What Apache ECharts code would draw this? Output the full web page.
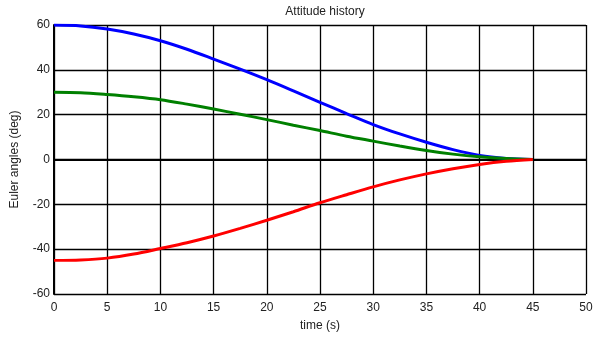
<!DOCTYPE html>
<html><head><meta charset="utf-8">
<script src="https://cdn.jsdelivr.net/npm/echarts@6/dist/echarts.min.js"></script>
<style>html,body{margin:0;padding:0;background:#fff}#c{width:597px;height:337px}</style>
</head><body><div id="c"></div>
<script>
const time = [0,2.5,5,7.5,10,12.5,15,17.5,20,22.5,25,27.5,30,32.5,35,37.5,40,42.5,45];
const blue = [60,59.6,58.2,56,53,49.2,44.8,40.3,35.6,30.6,25.5,20.5,15.6,11.4,7.7,4.4,1.8,0.5,0];
const green = [30,29.8,29,28,26.7,24.7,22.5,20.2,17.8,15.3,12.9,10.4,8.2,6,4,2.4,1.2,0.4,0];
const red = [-45,-44.8,-44,-42.2,-39.7,-37.1,-34.1,-30.7,-27.1,-23.3,-19.3,-15.7,-12.2,-9.1,-6.4,-4.1,-2.2,-0.8,0];

const font = 'Liberation Sans, Arial, sans-serif';
const pairs = a => time.map((t,i)=>[t,a[i]]);
const mk = (a,c)=>({type:'line',data:pairs(a),smooth:0.3,showSymbol:false,lineStyle:{color:c,width:3},itemStyle:{color:c}});
const chart = echarts.init(document.getElementById('c'));
chart.setOption({
  animation:false,
  title:{text:'Attitude history',left:320,textAlign:'center',top:1,textStyle:{fontFamily:font,fontSize:12,fontWeight:'normal',color:'#222'}},
  grid:{left:54,right:11,top:25,bottom:42},
  xAxis:{type:'value',min:0,max:50,interval:5,name:'time (s)',nameLocation:'middle',nameGap:26,
    nameTextStyle:{fontFamily:font,fontSize:12,color:'#222'},
    axisLine:{lineStyle:{color:'#000',width:2}},axisTick:{show:false},
    axisLabel:{fontFamily:font,fontSize:12,color:'#222',margin:8},
    splitLine:{lineStyle:{color:'#000',width:1.3}}},
  yAxis:{type:'value',min:-60,max:60,interval:20,name:'Euler angles (deg)',nameLocation:'middle',nameGap:33,
    nameTextStyle:{fontFamily:font,fontSize:12,color:'#222'},
    axisLine:{onZero:false,lineStyle:{color:'#000',width:2}},axisTick:{show:false},
    axisLabel:{fontFamily:font,fontSize:12,color:'#222',margin:4},
    splitLine:{lineStyle:{color:'#000',width:1.3}}},
  series:[mk(blue,'#0000ff'),mk(green,'#008000'),mk(red,'#ff0000')]
});
</script></body></html>
